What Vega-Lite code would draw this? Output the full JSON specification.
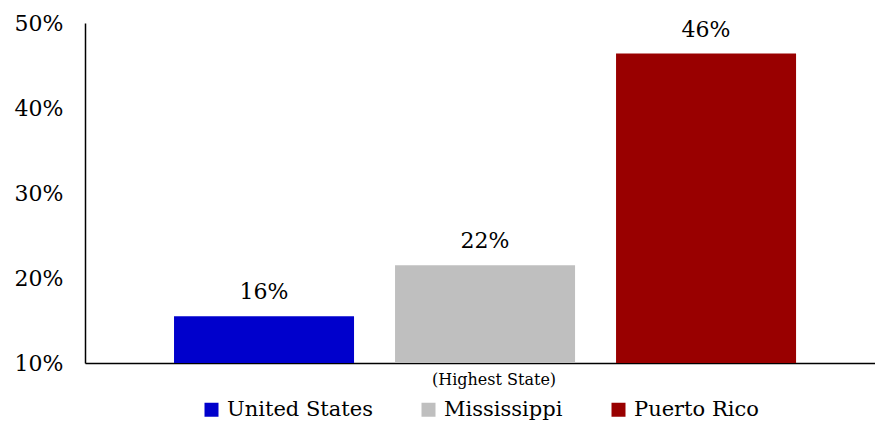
{
  "$schema": "https://vega.github.io/schema/vega-lite/v6.json",
  "width": 790,
  "height": 340,
  "autosize": "none",
  "padding": {"left": 85, "top": 23, "right": 0, "bottom": 63},
  "config": {"view": {"stroke": null}, "font": "DejaVu Serif"},
  "data": {
    "values": [
      {"region": "United States", "value": 15.5, "label": "16%"},
      {"region": "Mississippi", "value": 21.5, "label": "22%"},
      {"region": "Puerto Rico", "value": 46.4, "label": "46%"}
    ]
  },
  "encoding": {
    "x": {
      "field": "region",
      "type": "nominal",
      "sort": ["United States", "Mississippi", "Puerto Rico"],
      "scale": {"paddingInner": 0.1855, "paddingOuter": 0.38, "align": 0.53},
      "axis": {
        "title": null,
        "ticks": false,
        "labelAngle": 0,
        "domainColor": "#000000",
        "domainWidth": 1.5,
        "labelExpr": "datum.value == 'Mississippi' ? '(Highest State)' : ''",
        "labelFontSize": 16,
        "labelColor": "#000000",
        "labelPadding": 8,
        "labelOffset": 9
      }
    }
  },
  "layer": [
    {
      "mark": {"type": "bar"},
      "encoding": {
        "y": {
          "field": "value",
          "type": "quantitative",
          "scale": {"domain": [10, 50], "nice": false},
          "axis": {
            "title": null,
            "values": [10, 20, 30, 40, 50],
            "labelExpr": "datum.value + '%'",
            "ticks": false,
            "grid": false,
            "domainColor": "#000000",
            "domainWidth": 1.5,
            "labelPadding": 22,
            "labelFontSize": 22,
            "labelColor": "#000000"
          }
        },
        "y2": {"datum": 10},
        "color": {
          "field": "region",
          "type": "nominal",
          "sort": ["United States", "Mississippi", "Puerto Rico"],
          "scale": {
            "domain": ["United States", "Mississippi", "Puerto Rico"],
            "range": ["#0000CC", "#BFBFBF", "#990000"]
          },
          "legend": {
            "title": null,
            "orient": "none",
            "legendX": 116,
            "legendY": 376,
            "direction": "horizontal",
            "symbolType": "square",
            "symbolSize": 196,
            "symbolStrokeWidth": 0,
            "labelFontSize": 21,
            "labelColor": "#000000",
            "columnPadding": 45,
            "labelOffset": 5,
            "padding": 0
          }
        }
      }
    },
    {
      "mark": {"type": "text", "dy": -24, "fontSize": 22, "baseline": "middle", "color": "#000000"},
      "encoding": {
        "y": {"field": "value", "type": "quantitative"},
        "text": {"field": "label"}
      }
    }
  ]
}
